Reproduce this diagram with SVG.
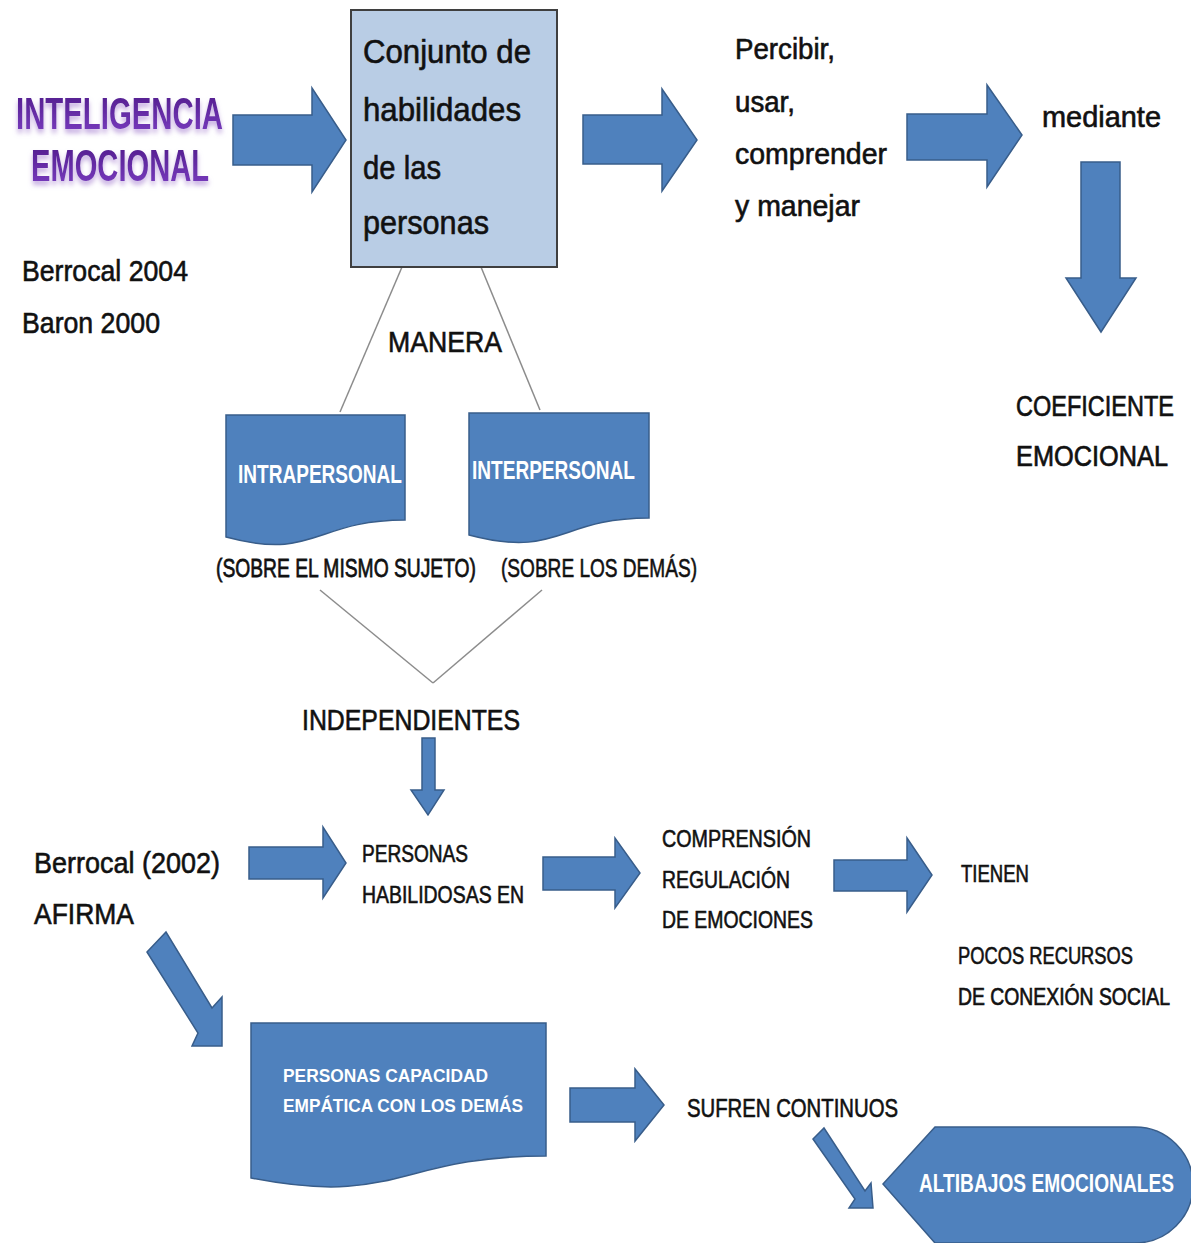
<svg xmlns="http://www.w3.org/2000/svg" width="1191" height="1243" viewBox="0 0 1191 1243">
<defs>
<linearGradient id="purp" x1="0" y1="0" x2="0" y2="1">
<stop offset="0" stop-color="#4e1a88"/>
<stop offset="1" stop-color="#7d3fc4"/>
</linearGradient>
<filter id="glow" x="-10%" y="-20%" width="120%" height="170%">
<feDropShadow dx="0" dy="4" stdDeviation="2.5" flood-color="#b89ada" flood-opacity="0.85"/>
</filter>
</defs>
<style>
.t{font-family:"Liberation Sans",Arial,sans-serif;fill:#111;stroke:#111;stroke-width:0.6;}
.w{font-family:"Liberation Sans",Arial,sans-serif;fill:#fff;font-weight:bold;}
.title{font-family:"Liberation Sans",Arial,sans-serif;font-weight:bold;fill:url(#purp);filter:url(#glow);}
.shape{fill:#4f81bd;stroke:#385d8a;stroke-width:1.5;}
.arrow{fill:#4f81bd;stroke:#385d8a;stroke-width:1.5;stroke-linejoin:miter;}
.line{fill:none;stroke:#8c8c8c;stroke-width:1.5;}
</style>
<rect width="1191" height="1243" fill="#fff"/>

<g id="connectors">
<polygon class="arrow" points="233,115 312,115 312,88 346,140 312,192 312,165 233,165"/>
<polygon class="arrow" points="583,115 662,115 662,89 697,140 662,191 662,164 583,164"/>
<polygon class="arrow" points="907,114 987,114 987,85 1022,135 987,187 987,160 907,160"/>
<polygon class="arrow" points="1081,162 1120,162 1120,278 1136,278 1101,332 1066,278 1081,278"/>
<line class="line" x1="402" y1="267" x2="340" y2="412"/>
<line class="line" x1="481" y1="267" x2="540" y2="410"/>
<line class="line" x1="320" y1="590" x2="433" y2="683"/>
<line class="line" x1="542" y1="590" x2="433" y2="683"/>
<polygon class="arrow" points="422,738 435,738 435,790 444,790 428,815 411,790 422,790"/>
<polygon class="arrow" points="249,847 323,847 323,827 346,863 323,898 323,879 249,879"/>
<polygon class="arrow" points="543,857 615,857 615,838 640,873 615,908 615,890 543,890"/>
<polygon class="arrow" points="834,860 907,860 907,838 932,875 907,912 907,891 834,891"/>
<polygon class="arrow" points="147,952 166,932 212,1008 222,997 222,1046 192,1046 198,1033"/>
<polygon class="arrow" points="570,1088 635,1088 635,1069 664,1105 635,1141 635,1122 570,1122"/>
<polygon class="arrow" points="813,1139 824,1128 865,1191 871,1183 873,1208 849,1208 855,1199"/>
</g>

<g id="n-inteligencia">
<text class="title" x="16" y="129" font-size="45" textLength="207" lengthAdjust="spacingAndGlyphs">INTELIGENCIA</text>
<text class="title" x="31" y="181" font-size="45" textLength="178" lengthAdjust="spacingAndGlyphs">EMOCIONAL</text>
</g>

<g id="n-conjunto">
<rect x="351" y="10" width="206" height="257" fill="#b9cde5" stroke="#3f3f3f" stroke-width="2"/>
<text class="t" x="363" y="63" font-size="33" textLength="168" lengthAdjust="spacingAndGlyphs">Conjunto de</text>
<text class="t" x="363" y="121" font-size="33" textLength="158" lengthAdjust="spacingAndGlyphs">habilidades</text>
<text class="t" x="363" y="179" font-size="33" textLength="78" lengthAdjust="spacingAndGlyphs">de las</text>
<text class="t" x="363" y="234" font-size="33" textLength="126" lengthAdjust="spacingAndGlyphs">personas</text>
</g>

<g id="n-autores">
<text class="t" x="22" y="281" font-size="29" textLength="166" lengthAdjust="spacingAndGlyphs">Berrocal 2004</text>
<text class="t" x="22" y="333" font-size="29" textLength="138" lengthAdjust="spacingAndGlyphs">Baron 2000</text>
</g>

<g id="n-percibir">
<text class="t" x="735" y="59" font-size="29" textLength="100" lengthAdjust="spacingAndGlyphs">Percibir,</text>
<text class="t" x="735" y="112" font-size="29" textLength="60" lengthAdjust="spacingAndGlyphs">usar,</text>
<text class="t" x="735" y="164" font-size="29" textLength="152" lengthAdjust="spacingAndGlyphs">comprender</text>
<text class="t" x="735" y="216" font-size="29" textLength="125" lengthAdjust="spacingAndGlyphs">y manejar</text>
</g>

<g id="n-mediante">
<text class="t" x="1042" y="127" font-size="29" textLength="119" lengthAdjust="spacingAndGlyphs">mediante</text>
</g>

<g id="n-coeficiente">
<text class="t" transform="translate(1016,416) scale(1,1.16)" font-size="25" textLength="158" lengthAdjust="spacingAndGlyphs">COEFICIENTE</text>
<text class="t" transform="translate(1016,466) scale(1,1.16)" font-size="25" textLength="152" lengthAdjust="spacingAndGlyphs">EMOCIONAL</text>
</g>

<g id="n-manera">
<text class="t" x="388" y="352" font-size="29" textLength="114" lengthAdjust="spacingAndGlyphs">MANERA</text>
</g>

<g id="n-intrapersonal">
<path class="shape" d="M226,415 H405 V520 C315,520 315,561 226,537 Z"/>
<text class="w" x="238" y="483" font-size="25" textLength="164" lengthAdjust="spacingAndGlyphs">INTRAPERSONAL</text>
<text class="t" transform="translate(216,577) scale(1,1.27)" font-size="20.5" textLength="260" lengthAdjust="spacingAndGlyphs">(SOBRE EL MISMO SUJETO)</text>
</g>

<g id="n-interpersonal">
<path class="shape" d="M469,413 H649 V518 C559,518 559,559 469,535 Z"/>
<text class="w" x="472" y="479" font-size="25" textLength="163" lengthAdjust="spacingAndGlyphs">INTERPERSONAL</text>
<text class="t" x="501" y="577" font-size="26" textLength="196" lengthAdjust="spacingAndGlyphs">(SOBRE LOS DEMÁS)</text>
</g>

<g id="n-independientes">
<text class="t" x="302" y="730" font-size="29" textLength="218" lengthAdjust="spacingAndGlyphs">INDEPENDIENTES</text>
</g>

<g id="n-berrocal2002">
<text class="t" x="34" y="873" font-size="30" textLength="186" lengthAdjust="spacingAndGlyphs">Berrocal (2002)</text>
<text class="t" x="34" y="924" font-size="30" textLength="100" lengthAdjust="spacingAndGlyphs">AFIRMA</text>
</g>

<g id="n-habilidosas">
<text class="t" x="362" y="862" font-size="24" textLength="106" lengthAdjust="spacingAndGlyphs">PERSONAS</text>
<text class="t" x="362" y="903" font-size="24" textLength="162" lengthAdjust="spacingAndGlyphs">HABILIDOSAS EN</text>
</g>

<g id="n-comprension">
<text class="t" x="662" y="847" font-size="24" textLength="149" lengthAdjust="spacingAndGlyphs">COMPRENSIÓN</text>
<text class="t" x="662" y="888" font-size="24" textLength="128" lengthAdjust="spacingAndGlyphs">REGULACIÓN</text>
<text class="t" x="662" y="928" font-size="24" textLength="151" lengthAdjust="spacingAndGlyphs">DE EMOCIONES</text>
</g>

<g id="n-tienen">
<text class="t" x="961" y="882" font-size="24" textLength="68" lengthAdjust="spacingAndGlyphs">TIENEN</text>
</g>

<g id="n-pocos">
<text class="t" x="958" y="964" font-size="24" textLength="175" lengthAdjust="spacingAndGlyphs">POCOS RECURSOS</text>
<text class="t" transform="translate(958,1005) scale(1,1.17)" font-size="20.5" textLength="212" lengthAdjust="spacingAndGlyphs">DE CONEXIÓN SOCIAL</text>
</g>

<g id="n-empatica">
<path class="shape" d="M251,1023 H546 V1156 C398,1156 398,1207 251,1178 Z"/>
<text class="w" x="283" y="1082" font-size="19" textLength="205" lengthAdjust="spacingAndGlyphs">PERSONAS CAPACIDAD</text>
<text class="w" x="283" y="1112" font-size="19" textLength="240" lengthAdjust="spacingAndGlyphs">EMPÁTICA CON LOS DEMÁS</text>
</g>

<g id="n-sufren">
<text class="t" x="687" y="1117" font-size="25" textLength="211" lengthAdjust="spacingAndGlyphs">SUFREN CONTINUOS</text>
</g>

<g id="n-altibajos">
<path class="shape" d="M883,1184 L935,1127 H1135 A58,58 0 0 1 1135,1243 H935 Z"/>
<text class="w" transform="translate(919,1192) scale(1,1.28)" font-size="19.5" textLength="255" lengthAdjust="spacingAndGlyphs">ALTIBAJOS EMOCIONALES</text>
</g>
</svg>
